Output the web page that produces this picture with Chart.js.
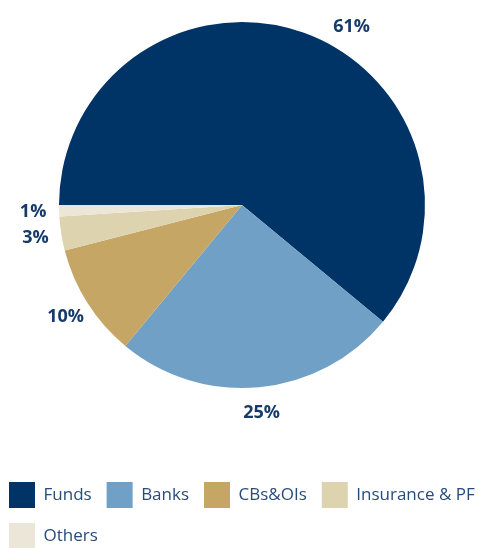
<!DOCTYPE html>
<html>
<head>
<meta charset="utf-8">
<title>Holders by type</title>
<script src="https://cdn.jsdelivr.net/npm/chart.js@4.4.0/dist/chart.umd.min.js"></script>
<style>
  html, body { margin: 0; padding: 0; background: #fff; overflow: hidden; }
  #wrap { width: 500px; height: 548px; }
</style>
</head>
<body>
<div id="wrap"><canvas id="chart-holders"></canvas></div>
<script>
// ---- Data ----
const categories = ['Funds', 'Banks', 'CBs&OIs', 'Insurance & PF', 'Others'];
const shares = [61, 25, 10, 3, 1];
const sliceColors = ['#003467', '#70a0c6', '#c6a664', '#ddd3ae', '#ece6d8'];

Chart.defaults.font.family = '"Open Sans", sans-serif';

// Percent labels just outside the ring, pushed down along the ring if they
// would run off the top of the canvas
const outsideLabels = {
  id: 'outsideLabels',
  afterDatasetsDraw(chart) {
    const { ctx } = chart;
    const meta = chart.getDatasetMeta(0);
    const minY = 27;
    ctx.save();
    ctx.font = 'bold 18px "Open Sans", sans-serif';
    ctx.fillStyle = '#163b6b';
    ctx.textAlign = 'center';
    ctx.textBaseline = 'middle';
    meta.data.forEach((arc, i) => {
      const p = arc.getProps(['x', 'y', 'startAngle', 'endAngle', 'outerRadius'], true);
      const r = p.outerRadius + 26;
      let a = (p.startAngle + p.endAngle) / 2;
      if (p.y + Math.sin(a) * r < minY) {
        const s = (minY - p.y) / r;
        a = Math.cos(a) >= 0 ? Math.asin(s) : Math.PI - Math.asin(s);
      }
      ctx.fillText(shares[i] + '%', p.x + Math.cos(a) * r, p.y + Math.sin(a) * r);
    });
    ctx.restore();
  }
};

new Chart(document.getElementById('chart-holders'), {
  type: 'pie',
  data: {
    labels: categories,
    datasets: [{
      data: shares,
      backgroundColor: sliceColors,
      borderWidth: 0,
      rotation: 270,
      radius: 183
    }]
  },
  options: {
    responsive: true,
    maintainAspectRatio: false,
    animation: false,
    layout: { padding: { left: -6, right: 0, top: 0, bottom: -11 } },
    plugins: {
      tooltip: { enabled: false },
      // empty title on the right just nudges the pie left
      title: { display: true, position: 'right', text: '', padding: 0, font: { size: 16, lineHeight: 1 } },
      legend: {
        position: 'bottom',
        align: 'start',
        title: { display: true, text: '', padding: { top: 47, bottom: 0 }, font: { size: 10, lineHeight: 1 } },
        labels: {
          boxWidth: 26,
          boxHeight: 26,
          padding: 15,
          color: '#274b7b',
          font: { size: 17 }
        }
      }
    }
  },
  plugins: [outsideLabels]
});
</script>
</body>
</html>
